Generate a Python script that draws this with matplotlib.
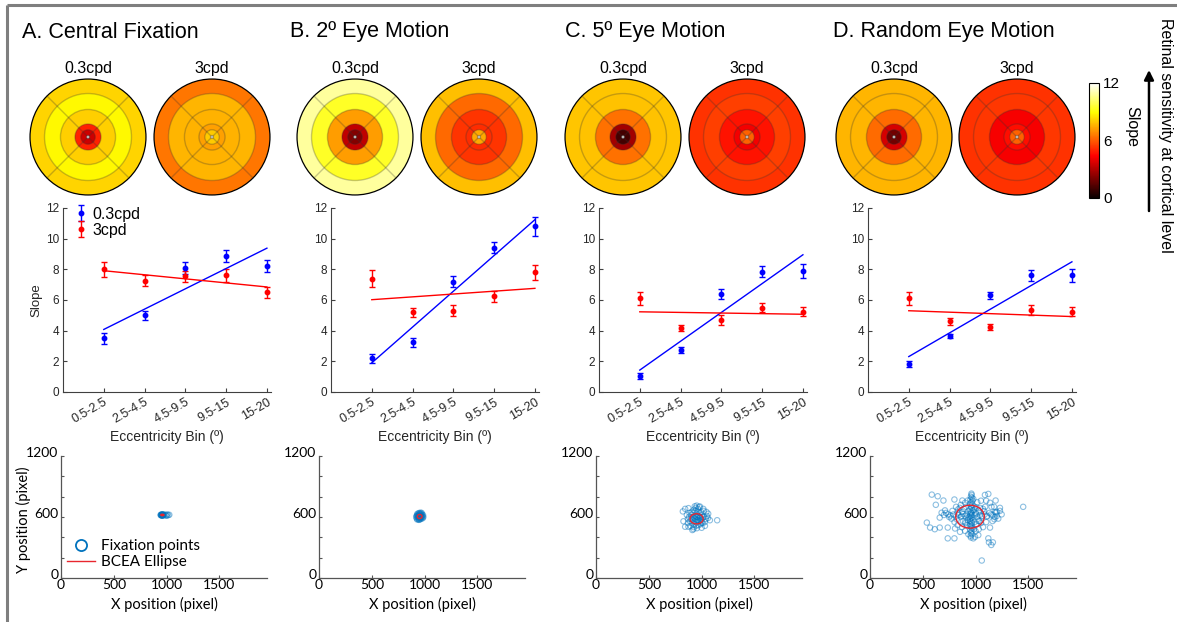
import numpy as np
import matplotlib
matplotlib.use('Agg')
import matplotlib.pyplot as plt
from matplotlib.patches import Circle, Ellipse
from matplotlib.lines import Line2D
from matplotlib import cm, colors
import matplotlib.transforms as mtransforms

plt.rcParams['font.family'] = ['Liberation Sans', 'DejaVu Sans']

# ---------------- data ----------------
panel_titles = ['A. Central Fixation', 'B. 2º Eye Motion', 'C. 5º Eye Motion', 'D. Random Eye Motion']
freq_labels = ['0.3cpd', '3cpd']
ecc_bins = ['0.5-2.5', '2.5-4.5', '4.5-9.5', '9.5-15', '15-20']
ecc_edges = [0.5, 2.5, 4.5, 9.5, 15, 20]

a_low = [3.5, 5.0, 8.1, 8.85, 8.2]
a_low_err = [0.35, 0.3, 0.4, 0.4, 0.4]
a_high = [8.0, 7.25, 7.55, 7.6, 6.5]
a_high_err = [0.5, 0.35, 0.35, 0.45, 0.35]

b_low = [2.2, 3.25, 7.2, 9.4, 10.8]
b_low_err = [0.3, 0.3, 0.35, 0.35, 0.6]
b_high = [7.4, 5.2, 5.3, 6.25, 7.8]
b_high_err = [0.55, 0.3, 0.35, 0.35, 0.5]

c_low = [1.05, 2.75, 6.4, 7.85, 7.9]
c_low_err = [0.2, 0.2, 0.35, 0.35, 0.45]
c_high = [6.1, 4.2, 4.7, 5.5, 5.25]
c_high_err = [0.45, 0.2, 0.3, 0.3, 0.3]

d_low = [1.85, 3.65, 6.3, 7.6, 7.6]
d_low_err = [0.2, 0.15, 0.25, 0.35, 0.45]
d_high = [6.1, 4.6, 4.25, 5.35, 5.25]
d_high_err = [0.4, 0.2, 0.2, 0.3, 0.3]

# fixation points (x, y in screen pixels)
a_fx = [945, 948, 950, 952, 955, 957, 960, 962, 965, 967, 970, 953, 958, 963, 943, 972, 985, 995, 1005, 1015, 1025, 1000]
a_fy = [618, 622, 615, 625, 620, 613, 618, 627, 621, 616, 624, 617, 623, 615, 621, 619, 622, 616, 626, 618, 622, 612]

b_fx = [920, 925, 925, 930, 930, 935, 935, 940, 940, 940, 945, 945, 950, 950, 950, 950, 955, 955, 955, 960,
        960, 960, 965, 965, 970, 970, 975, 975, 980, 982, 985, 988, 945, 962, 928, 972, 957, 947, 938, 968]
b_fy = [600, 585, 615, 575, 630, 595, 620, 580, 605, 635, 590, 615, 575, 600, 625, 640, 585, 610, 632, 595,
        620, 578, 605, 630, 585, 615, 598, 625, 608, 588, 620, 600, 572, 642, 607, 640, 598, 607, 612, 598]

c_fx = [822, 844, 875, 953, 984, 1016, 1062, 1078, 1031, 1000, 922, 875, 844, 828, 912, 1147,
        880, 900, 920, 940, 960, 980, 1000, 1020, 1040, 1030, 1010, 990, 970, 950, 930, 910, 890, 870, 860,
        900, 920, 940, 960, 980, 1000, 1010, 990, 970, 950, 930, 915, 935, 955, 975, 995, 965, 945, 925, 905,
        885, 1050, 1045, 870, 895, 1060, 1020, 960, 950, 940, 965, 985, 1000, 925, 955, 975, 935]
c_fy = [655, 680, 687, 712, 703, 680, 632, 568, 513, 494, 481, 504, 504, 558, 472, 568,
        600, 620, 640, 660, 650, 640, 620, 600, 580, 550, 540, 530, 520, 515, 525, 540, 560, 580, 620,
        580, 600, 610, 600, 590, 575, 600, 560, 555, 550, 560, 575, 590, 575, 610, 650, 680, 690, 670, 650,
        640, 610, 650, 540, 510, 590, 660, 620, 600, 580, 570, 600, 545, 500, 490, 700, 705]

d_fx = [585, 641, 695, 623, 799, 874, 925, 962, 978, 1088, 1120, 1189, 1136, 1230, 1199, 1246, 1214, 1450,
        538, 569, 613, 660, 736, 805, 736, 799, 931, 978, 1025, 1136, 1120, 1163, 1126, 1148, 1058, 678,
        660, 710, 738, 771, 821, 834, 868, 900, 946, 985, 1026, 1058, 1080, 1042, 1105, 1145, 1177, 900,
        852, 955, 994,
        955, 965, 950, 970, 958, 948, 968, 955, 962, 945, 972, 952, 960, 948, 966, 955, 940, 962, 950, 970,
        945, 958, 965, 950, 960, 955, 968, 950, 962, 955, 965, 952, 960,
        760, 790, 815, 840, 860, 880, 900, 915, 930, 990, 1005, 1020, 1040, 1060, 1085, 1110, 1130, 1160,
        1185, 1200,
        890, 910, 930, 985, 1010, 1030, 880, 905, 925, 990, 1010, 1035, 870, 1000, 920, 990, 1050, 850, 1070,
        1090, 830, 1150, 1175, 1100, 1050, 1015, 900, 860, 815, 720, 700, 750, 780, 800, 830, 870, 1000, 1030,
        1070, 1100, 1160, 1190, 1230, 1180]
d_fy = [820, 804, 762, 720, 772, 762, 762, 817, 778, 817, 827, 762, 740, 690, 650, 626, 584, 700,
        545, 496, 480, 496, 496, 487, 390, 390, 431, 390, 422, 496, 390, 351, 351, 325, 172, 642,
        594, 665, 626, 584, 578, 675, 610, 551, 512, 480, 561, 610, 658, 690, 603, 626, 578, 463,
        454, 399, 405,
        800, 790, 770, 760, 745, 730, 720, 705, 690, 675, 665, 650, 640, 630, 620, 610, 600, 595, 585, 575,
        565, 555, 540, 530, 515, 500, 490, 475, 460, 445, 430, 415, 830,
        615, 625, 605, 620, 600, 630, 610, 625, 595, 615, 630, 600, 620, 605, 625, 610, 640, 620,
        650, 610,
        680, 700, 660, 670, 690, 660, 560, 540, 570, 550, 530, 560, 650, 640, 520, 700, 540, 690, 680,
        700, 640, 700, 700, 760, 760, 745, 740, 720, 700, 640, 620, 600, 660, 550, 520, 500, 460, 480,
        500, 550, 560, 640, 660, 600]

# BCEA ellipses: centre x, centre y, width, height
bcea_cx = [960, 953, 952, 947]
bcea_cy = [620, 605, 582, 603]
bcea_w = [30, 45, 125, 270]
bcea_h = [14, 40, 100, 225]

lows = [a_low, b_low, c_low, d_low]
low_errs = [a_low_err, b_low_err, c_low_err, d_low_err]
highs = [a_high, b_high, c_high, d_high]
high_errs = [a_high_err, b_high_err, c_high_err, d_high_err]
fxs = [a_fx, b_fx, c_fx, d_fx]
fys = [a_fy, b_fy, c_fy, d_fy]

# ---------------- layout ----------------
W, H = 1177, 622
fig = plt.figure(figsize=(W / 100, H / 100), dpi=100)


def pax(x0, y0, w, h, **kw):
    return fig.add_axes([x0 / W, 1 - (y0 + h) / H, w / W, h / H], **kw)


overlay = pax(0, 0, W, H, zorder=10)
overlay.set_xlim(0, W)
overlay.set_ylim(H, 0)
overlay.axis('off')
overlay.patch.set_alpha(0)

# frame lines
overlay.plot([7, W], [5, 5], color='#7f7f7f', lw=2.2, solid_capstyle='butt')
overlay.plot([7, 7], [5, H], color='#7f7f7f', lw=2.2, solid_capstyle='butt')

title_x = [22, 290, 565, 833]
disc_cx = [[88, 212], [355, 479], [623, 747], [894, 1017]]
line_left = [63, 331, 599, 868]
sc_left = [61, 319, 596, 870]

cmap = plt.get_cmap('hot')
norm = colors.Normalize(0, 12)
blue_m = (0, 0.447, 0.741)


def draw_disc(cx, values):
    ax = pax(cx - 60, 137 - 60, 120, 120)
    ax.set_xlim(-20.7, 20.7)
    ax.set_ylim(-20.7, 20.7)
    ax.set_aspect('equal')
    ax.axis('off')
    for i in range(len(values) - 1, -1, -1):
        ax.add_patch(Circle((0, 0), ecc_edges[i + 1], facecolor=cmap(norm(values[i])), edgecolor='none'))
    ax.add_patch(Circle((0, 0), ecc_edges[0], facecolor='#e6e6e6', edgecolor='none'))
    for r in ecc_edges[:-1]:
        ax.add_patch(Circle((0, 0), r, fill=False, edgecolor=(0.2, 0.2, 0.2, 0.28), lw=1.0))
    for ang in [45, 135, 225, 315]:
        a = np.deg2rad(ang)
        ax.plot([ecc_edges[0] * np.cos(a), ecc_edges[-1] * np.cos(a)],
                [ecc_edges[0] * np.sin(a), ecc_edges[-1] * np.sin(a)],
                color=(0.2, 0.2, 0.2, 0.28), lw=1.0)
    ax.add_patch(Circle((0, 0), ecc_edges[-1], fill=False, edgecolor='black', lw=0.9))


xs = np.arange(1, len(ecc_bins) + 1)

for k in range(4):
    overlay.text(title_x[k], 32, panel_titles[k], fontsize=15.5, ha='left', va='center')
    # discs
    draw_disc(disc_cx[k][0], lows[k])
    draw_disc(disc_cx[k][1], highs[k])
    for j in range(2):
        overlay.text(disc_cx[k][j], 68, freq_labels[j], fontsize=11.5, ha='center', va='center')

    # slope chart
    ax = pax(line_left[k], 208, 208, 184)
    e1 = ax.errorbar(xs, lows[k], yerr=low_errs[k], fmt='o', color='blue', ms=3.2,
                     capsize=2.2, elinewidth=1.0, capthick=1.0, label=freq_labels[0])
    e2 = ax.errorbar(xs, highs[k], yerr=high_errs[k], fmt='o', color='red', ms=3.2,
                     capsize=2.2, elinewidth=1.0, capthick=1.0, label=freq_labels[1])
    pl = np.polyfit(xs, lows[k], 1)
    ph = np.polyfit(xs, highs[k], 1)
    xe = xs[[0, -1]]
    ax.plot(xe, np.polyval(pl, xe), color='blue', lw=1.0)
    ax.plot(xe, np.polyval(ph, xe), color='red', lw=1.0)
    ax.set_xlim(0, 5.1)
    ax.set_ylim(0, 12)
    ax.set_yticks(np.arange(0, 13, 2))
    ax.set_xticks(xs)
    ax.set_xticklabels(ecc_bins, rotation=30, ha='right', va='top', rotation_mode='anchor')
    offset = mtransforms.ScaledTranslation(6 / 100, -2 / 100, fig.dpi_scale_trans)
    for lab in ax.get_xticklabels():
        lab.set_transform(lab.get_transform() + offset)
    for s in ['top', 'right']:
        ax.spines[s].set_visible(False)
    for s in ['left', 'bottom']:
        ax.spines[s].set_color('#404040')
        ax.spines[s].set_linewidth(0.8)
    ax.tick_params(direction='in', length=3, width=0.8, colors='#404040', labelcolor='#262626')
    ax.tick_params(axis='y', labelsize=8.5, pad=3)
    ax.tick_params(axis='x', labelsize=9, pad=3)
    overlay.text(line_left[k] + 104, 437, 'Eccentricity Bin (º)', fontsize=10, ha='center', va='center',
                 color='#262626')
    if k == 0:
        ax.legend(handles=[e1, e2], loc='upper left', bbox_to_anchor=(0.02, 1.04), fontsize=11.5,
                  frameon=False, handlelength=0.9, handletextpad=0.3, labelspacing=0.05, borderaxespad=0)
        overlay.text(36, 300, 'Slope', fontsize=9.5, rotation=90, ha='center', va='center', color='#262626')

    # fixation scatter
    ax = pax(sc_left[k], 456, 206, 122)
    ax.scatter(fxs[k], fys[k], s=15, facecolors='none', edgecolors=[blue_m + (0.45,)], linewidths=0.8)
    ax.add_patch(Ellipse((bcea_cx[k], bcea_cy[k]), bcea_w[k], bcea_h[k], fill=False,
                         edgecolor='#e8262e', lw=1.0))
    ax.set_xlim(0, 1950)
    ax.set_ylim(0, 1200)
    ax.set_xticks([0, 500, 1000, 1500])
    ax.set_yticks([0, 600, 1200])
    ax.set_yticks([200, 400, 800, 1000], minor=True)
    for s in ['top', 'right']:
        ax.spines[s].set_visible(False)
    for s in ['left', 'bottom']:
        ax.spines[s].set_color('#555555')
        ax.spines[s].set_linewidth(0.9)
    ax.tick_params(which='both', direction='in', length=2.5, width=0.8, colors='#555555',
                   labelcolor='black', labelsize=10)
    ax.tick_params(axis='x', pad=1)
    ax.tick_params(axis='y', pad=2)
    yoff = mtransforms.ScaledTranslation(0, 4 / 100, fig.dpi_scale_trans)
    for lab in ax.get_yticklabels():
        lab.set_transform(lab.get_transform() + yoff)
    for lab in ax.get_xticklabels() + ax.get_yticklabels():
        lab.set_family('Lato')
    overlay.text(sc_left[k] + 103, 604, 'X position (pixel)', fontsize=10.5, ha='center', va='center',
                 family='Lato')
    if k == 0:
        overlay.text(23, 520, 'Y position (pixel)', fontsize=10.5, rotation=90, ha='center', va='center',
                     family='Lato')
        hnd = [Line2D([], [], ls='none', marker='o', mfc='none', mec=blue_m, mew=1.3, ms=8),
               Line2D([], [], color='#e8262e', lw=1.0)]
        ax.legend(hnd, ['Fixation points', 'BCEA Ellipse'], loc='lower left', bbox_to_anchor=(0.0, 0.02),
                  frameon=False, prop={'family': 'Lato', 'size': 11}, handlelength=1.8,
                  handletextpad=0.4, labelspacing=0.15, borderaxespad=0)

# colorbar
cax = pax(1089, 83, 10, 115)
cb = fig.colorbar(cm.ScalarMappable(norm=norm, cmap=cmap), cax=cax, ticks=[0, 6, 12])
cb.outline.set_linewidth(0.8)
cax.tick_params(length=0, labelsize=11, pad=3)
overlay.text(1132, 127, 'Slope', fontsize=11.5, rotation=-90, ha='center', va='center')
overlay.annotate('', xy=(1149, 70), xytext=(1149, 211),
                 arrowprops=dict(arrowstyle='-|>', color='black', lw=1.8, mutation_scale=14,
                                 shrinkA=0, shrinkB=0))
overlay.text(1165, 135, 'Retinal sensitivity at cortical level', fontsize=11.5, rotation=-90,
             ha='center', va='center')

fig.savefig('out.png', dpi=100)
